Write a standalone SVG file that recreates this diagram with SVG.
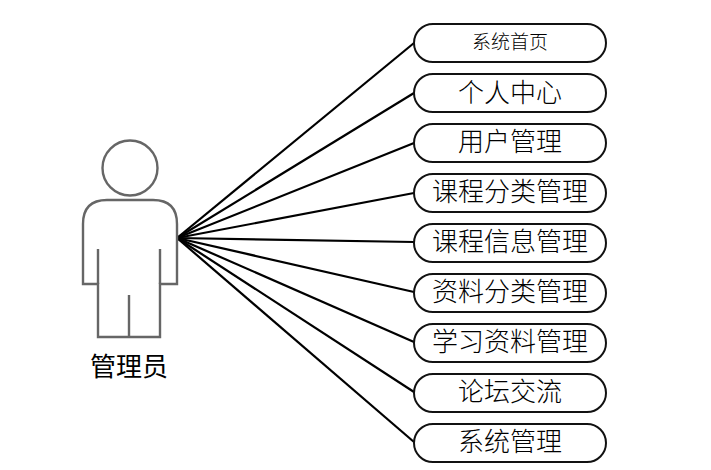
<svg xmlns="http://www.w3.org/2000/svg" width="711" height="470" viewBox="0 0 711 470">
<style>
.n rect{fill:#fff;stroke:#111;stroke-width:2}
.n text{font-family:"Noto Sans CJK SC","Noto Sans CJK JP",serif;font-size:26px;text-anchor:middle;fill:#000;font-weight:300}
#connectors line{stroke:#000;stroke-width:2.2}
.a{fill:none;stroke:#666;stroke-width:2.4}
</style>
<rect width="711" height="470" fill="#fff"/>
<g id="connectors">
<line x1="177" y1="238" x2="414" y2="43"/>
<line x1="177" y1="238" x2="414" y2="93"/>
<line x1="177" y1="238" x2="414" y2="143"/>
<line x1="177" y1="238" x2="414" y2="193"/>
<line x1="177" y1="238" x2="414" y2="242"/>
<line x1="177" y1="238" x2="414" y2="292"/>
<line x1="177" y1="238" x2="414" y2="342"/>
<line x1="177" y1="238" x2="414" y2="392"/>
<line x1="177" y1="238" x2="414" y2="442"/>
</g>
<g id="actor">
<circle class="a" cx="130" cy="168" r="27.5"/>
<path class="a" d="M83 284V224Q83 200 107 200H153Q177 200 177 224V284H160V337H98V284Z"/>
<path class="a" d="M98 249V284M160 249V284M129 295V337"/>
<text x="129" y="376" font-family="Noto Sans CJK SC,sans-serif" font-size="26" text-anchor="middle" fill="#000">管理员</text>
</g>
<g id="n1" class="n"><rect x="414" y="24" width="192" height="38" rx="19"/><text x="510" y="49" style="font-size:19px">系统首页</text></g>
<g id="n2" class="n"><rect x="414" y="74" width="192" height="38" rx="19"/><text x="510" y="102">个人中心</text></g>
<g id="n3" class="n"><rect x="414" y="124" width="192" height="38" rx="19"/><text x="510" y="151">用户管理</text></g>
<g id="n4" class="n"><rect x="414" y="174" width="192" height="38" rx="19"/><text x="510" y="201">课程分类管理</text></g>
<g id="n5" class="n"><rect x="414" y="224" width="192" height="38" rx="19"/><text x="510" y="251">课程信息管理</text></g>
<g id="n6" class="n"><rect x="414" y="274" width="192" height="38" rx="19"/><text x="510" y="301">资料分类管理</text></g>
<g id="n7" class="n"><rect x="414" y="324" width="192" height="38" rx="19"/><text x="510" y="351">学习资料管理</text></g>
<g id="n8" class="n"><rect x="414" y="374" width="192" height="38" rx="19"/><text x="510" y="401">论坛交流</text></g>
<g id="n9" class="n"><rect x="414" y="424" width="192" height="38" rx="19"/><text x="510" y="451">系统管理</text></g>
</svg>
